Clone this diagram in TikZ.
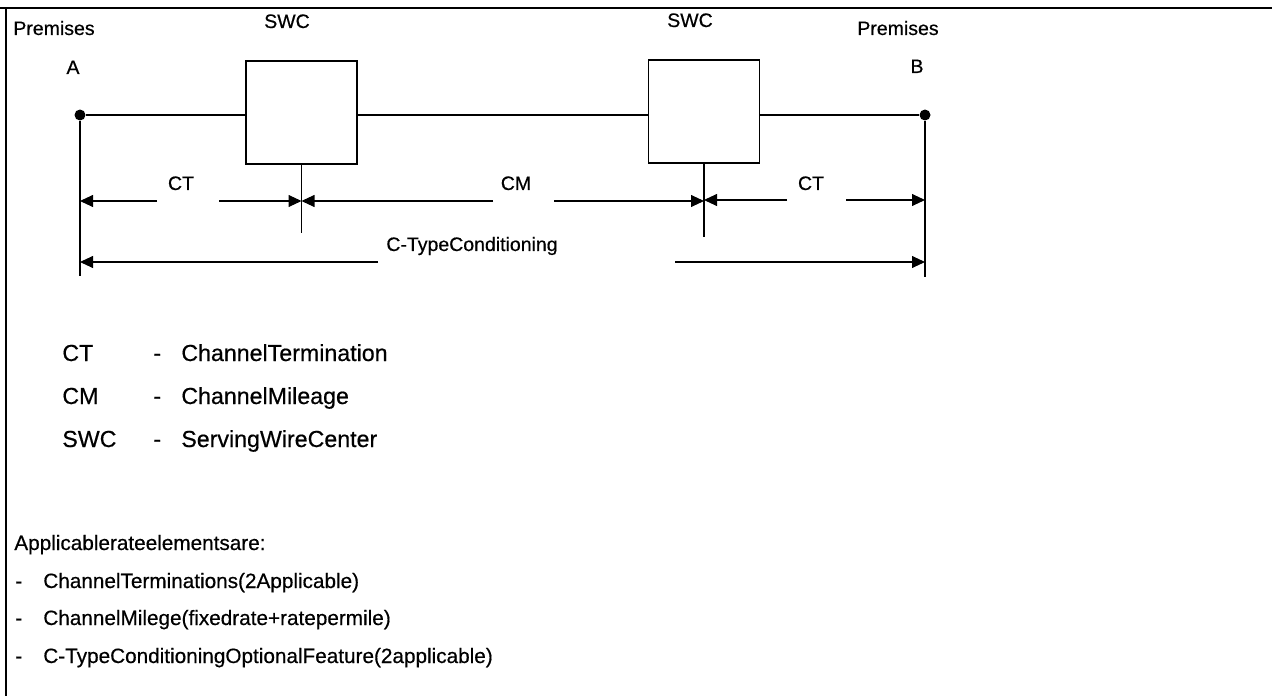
\documentclass[tikz,border=0pt]{standalone}
\usepackage{fontspec}
\setmainfont{Liberation Sans}[FakeBold=0.5]
\usetikzlibrary{arrows.meta}

\begin{document}
\begin{tikzpicture}[x=0.02cm, y=-0.02cm,
    swcbox/.style={rectangle, draw, line width=0.6pt, minimum width=2.22cm, minimum height=2.06cm, inner sep=0},
    dot/.style={circle, fill, inner sep=0, minimum size=0.22cm},
    lbl/.style={font=\fontsize{11.1}{13}\selectfont, inner sep=0, anchor=base},
    legend/.style={font=\fontsize{13.2}{16}\selectfont, inner sep=0, anchor=base west},
    note/.style={font=\fontsize{11.8}{14}\selectfont, inner sep=0, anchor=base west},
    wire/.style={line width=0.6pt},
    dim/.style={-{Triangle[length=7.4pt, width=6.8pt]}, line width=0.6pt}
]
    \useasboundingbox (0,0) rectangle (1272,696);

    % Frame
    \draw[line width=1.2pt] (0,8) -- (1272,8);
    \draw[line width=1.2pt] (6,8) -- (6,696);

    % Premises and wire centers
    \node[dot] (a) at (80,115) {};
    \node[dot] (b) at (925,115) {};
    \node[swcbox] (swc1) at (301.5,112.5) {};
    \node[swcbox] (swc2) at (704,111.5) {};

    \node[lbl] (prema) at (54,35) {Premises};
    \node[lbl] (laba) at (73,74) {A};
    \node[lbl] (premb) at (898,35) {Premises};
    \node[lbl] (labb) at (917,73) {B};
    \node[lbl] (swclab1) at (287,28) {SWC};
    \node[lbl] (swclab2) at (690,27) {SWC};

    % Circuit
    \draw[wire] (a) -- (a -| swc1.west);
    \draw[wire] (a -| swc1.east) -- (a -| swc2.west);
    \draw[wire] (b -| swc2.east) -- (b);

    % Extension lines
    \draw[wire] (a) -- ++(0,161) coordinate (afoot);
    \draw[wire] (b) -- ++(0,162) coordinate (bfoot);
    \draw[wire] (swc1.south) -- ++(0,68) coordinate (t1);
    \draw[wire] (swc2.south) -- ++(0,73) coordinate (t2);

    % Dimension lines
    \coordinate (ct1l) at (157,201);
    \coordinate (ct1r) at (219,201);
    \coordinate (cml) at (493,201);
    \coordinate (cmr) at (554,201);
    \coordinate (ct2l) at (787,200);
    \coordinate (ct2r) at (846,200);
    \coordinate (cyl) at (378,262);
    \coordinate (cyr) at (675,262);

    \draw[dim] (ct1l) -- (ct1l -| a);
    \draw[dim] (ct1r) -- (ct1r -| swc1.south);
    \draw[dim] (cml) -- (cml -| swc1.south);
    \draw[dim] (cmr) -- (cmr -| swc2.south);
    \draw[dim] (ct2l) -- (ct2l -| swc2.south);
    \draw[dim] (ct2r) -- (ct2r -| b);
    \draw[dim] (cyl) -- (cyl -| a);
    \draw[dim] (cyr) -- (cyr -| b);

    \node[lbl] (ctlab1) at (181,190) {CT};
    \node[lbl] (cmlab) at (516,190) {CM};
    \node[lbl] (ctlab2) at (811,190) {CT};
    \node[lbl] (cylab) at (472,251) {C-TypeConditioning};

    % Legend
    \node[legend] (k1) at (62,361) {CT};
    \node[legend] (k2) at (62,404) {CM};
    \node[legend] (k3) at (62,447) {SWC};
    \node[legend] (h1) at (153,361) {-};
    \node[legend] (h2) at (153,404) {-};
    \node[legend] (h3) at (153,447) {-};
    \node[legend] (v1) at (181,361) {ChannelTermination};
    \node[legend] (v2) at (181,404) {ChannelMileage};
    \node[legend] (v3) at (181,447) {ServingWireCenter};

    % Rate elements
    \node[note] (head) at (14,550) {Applicablerateelementsare:};
    \node[note] (d1) at (15,588) {-};
    \node[note] (d2) at (15,625) {-};
    \node[note] (d3) at (15,663) {-};
    \node[note] (e1) at (43,588) {ChannelTerminations(2Applicable)};
    \node[note] (e2) at (43,625) {ChannelMilege(fixedrate+ratepermile)};
    \node[note] (e3) at (43,663) {C-TypeConditioningOptionalFeature(2applicable)};
\end{tikzpicture}
\end{document}
